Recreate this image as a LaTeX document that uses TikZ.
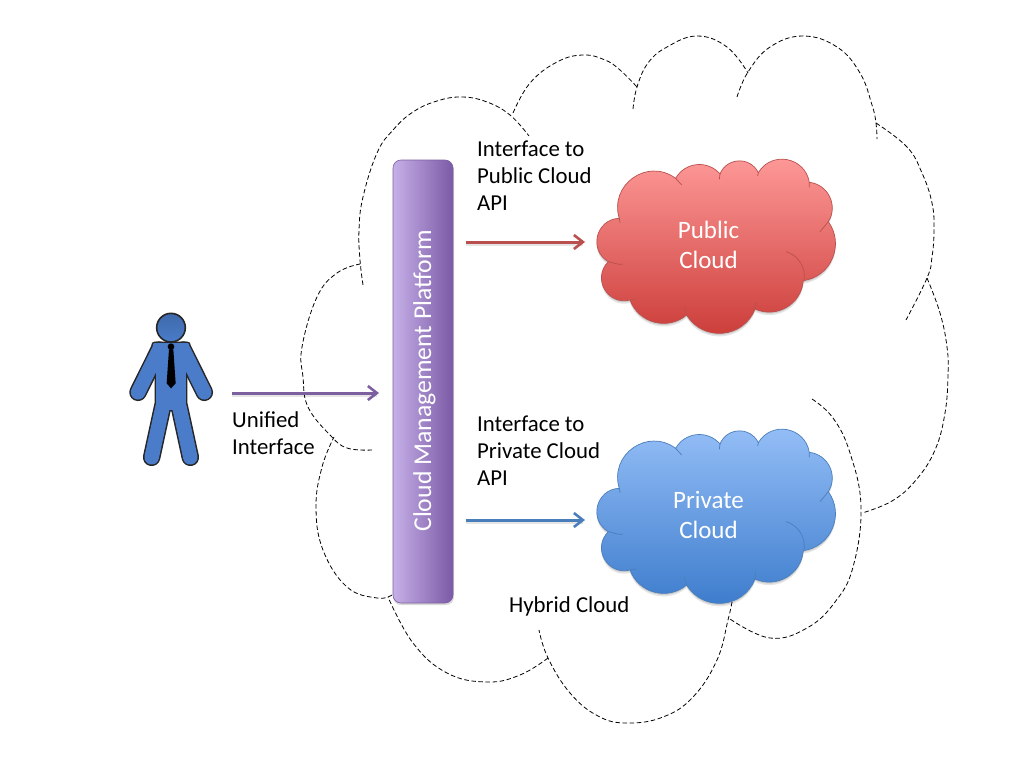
\documentclass[tikz,border=0pt]{standalone}
\usepackage{fontspec}
\setmainfont{Carlito}
\usetikzlibrary{arrows.meta}
\definecolor{redtop}{HTML}{FF9C9B}
\definecolor{redbot}{HTML}{CA3A36}
\definecolor{redline}{HTML}{B9504D}
\definecolor{bluetop}{HTML}{97C0F8}
\definecolor{bluebot}{HTML}{3A7ACB}
\definecolor{blueline}{HTML}{4A7EBB}
\definecolor{barleft}{HTML}{C6B0E8}
\definecolor{barright}{HTML}{7B5AA6}
\definecolor{purpleline}{HTML}{7D60A0}
\definecolor{manblue}{HTML}{4A7CC9}
\tikzset{
  x=1pt,y=-1pt,
  % circular arc bulging to the left of its direction, #1 = angle to the chord
  lobe/.code={\pgfmathsetmacro\lobeloose{(2/3)*tan(#1/2)/sin(#1)/0.3915}%
    \tikzset{bend left=#1,looseness=\lobeloose}},
  hybrid/.style={draw=black,line width=.8pt,dash pattern=on 4.5pt off 2.6pt},
  label/.style={font=\fontsize{22.8}{27}\selectfont,align=left,anchor=west,text=black,inner sep=0pt},
  cloudtext/.style={font=\fontsize{25}{30}\selectfont,align=center,text=white,inner sep=0pt},
  flow/.style={line width=3pt,-{Straight Barb[length=9pt,width=14pt,line width=2.6pt]}},
}
% Outline of the many-lobed cloud, traced lobe by lobe
\newcommand{\lobeoutline}{
  (118,205) to[lobe=72] (287,85) to[lobe=55] (420,72) to[lobe=66] (535,68)
  to[lobe=70] (688,97) to[lobe=58] (745,215) to[lobe=59] (670,392)
  to[lobe=55] (525,477) to[lobe=64] (320,495) to[lobe=55] (150,450)
  to[lobe=75] (85,335) to[lobe=74] (118,205) -- cycle}
% #1 vertical offset, #2 top colour, #3 bottom colour, #4 line colour
\newcommand{\lobecloud}[4]{
  \begin{scope}[shift={(580,#1)},x=.3333pt,y=-.3333pt]
    \fill[black,opacity=.10,yshift=-3pt] \lobeoutline;
    \fill[black,opacity=.10,yshift=-1.5pt] \lobeoutline;
    \path[draw=#4,line width=.7pt,top color=#2,bottom color=#3] \lobeoutline;
    \draw[#4,line width=.7pt]
      (287,85) -- (305,105)
      (420,72) -- (418,88)
      (535,68) -- (533,78)
      (688,97) -- (688,112)
      (745,215) -- (720,245)
      (525,477) -- (527,455)
      (320,495) -- (313,472)
      (150,450) -- (168,447)
      (85,335) to[out=-10,in=185] (128,343)
      (118,205) -- (120,218)
      (618,305) to[lobe=42] (672,392);
  \end{scope}
}
% The figure's limbs and trunk, laid down once for the outline and once for the fill
\newcommand{\manlayer}[2]{
  \path[draw=#1,fill=#1,line width=#2+3pt,line join=round]
    (133,134) -- (233,134) -- (223,220) -- (223,325) -- (143,325) -- (143,220) -- cycle;
  \draw[#1,line width=#2+14.5pt,line cap=round]
    (84,277) -- (147,150)  (283,277) -- (220,150);
  \draw[#1,line width=#2+14.5pt,line cap=round]
    (125,472) -- (158,320)  (241,472) -- (208,320);
}
\begin{document}
\begin{tikzpicture}
\useasboundingbox (0,0) rectangle (1024,768);
\fill[white] (0,0) rectangle (1024,768);

% Hybrid cloud: separate dashed arcs
\draw[hybrid] plot[smooth,tension=.7] coordinates {(363,285)(360,260)(359,230)(363,197)(377,153)(393,130)(413,112)(437,101)(462,97)(487,102)(510,115)(529,136)};
\draw[hybrid] plot[smooth,tension=.7] coordinates {(513,113)(530,83)(557,62)(583,55)(605,60)(620,70)(637,87)};
\draw[hybrid] plot[smooth,tension=.7] coordinates {(633,109)(637,87)(648,63)(667,47)(697,36)(727,47)(748,73)};
\draw[hybrid] plot[smooth,tension=.7] coordinates {(737,97)(748,72)(770,47)(803,36)(837,47)(860,73)(872,105)(876,123)(877,139)};
\draw[hybrid] plot[smooth,tension=.7] coordinates {(876,123)(907,147)(922,173)(932,203)(934,230)(932,257)(927,278)(906,320)};
\draw[hybrid] plot[smooth,tension=.7] coordinates {(927,278)(940,313)(947,347)(948,375)(945,413)(935,450)(916,480)(892,501)(862,513)};
\draw[hybrid] plot[smooth,tension=.7] coordinates {(812,399)(833,418)(850,453)(861,507)(853,567)(835,602)(807,628)(770,638)(730,619)};
\draw[hybrid] plot[smooth,tension=.7] coordinates {(732,602)(728,620)(717,660)(693,697)(663,717)(627,723)(598,716)(570,693)(548,658)(539,630)};
\draw[hybrid] plot[smooth,tension=.7] coordinates {(548,658)(520,675)(487,682)(447,673)(413,643)(388,597)};
\draw[hybrid] plot[smooth,tension=.7] coordinates {(392,595)(377,598)(347,587)(323,550)(316,507)(322,467)(334,437)};
\draw[hybrid] plot[smooth,tension=.7] coordinates {(372,450)(347,448)(330,435)(308,407)(303,377)(302,347)(317,297)(337,273)(360,264)};

% Management platform bar
\fill[black,opacity=.15,rounded corners=8pt] (393,162) rectangle (454,605);
\path[rounded corners=8pt,left color=barleft,right color=barright,draw=purpleline,line width=.6pt] (393,160) rectangle (453,603);
\node[font=\fontsize{25.7}{30}\selectfont,text=white,rotate=90,inner sep=0pt] (platform) at (424.5,381) {Cloud Management Platform};

% Target clouds
\lobecloud{150}{redtop}{redbot}{redline}
\lobecloud{420}{bluetop}{bluebot}{blueline}
\node[cloudtext] (public) at (708.5,245) {Public\\Cloud};
\node[cloudtext] (private) at (708.5,515) {Private\\Cloud};

% Person figure
\begin{scope}[shift={(110,300)},x=.3333pt,y=-.3333pt]
  \manlayer{black!85}{3pt}
  \manlayer{manblue}{0pt}
  \path[draw=black!85,line width=1.6pt,top color=manblue!85!black,bottom color=manblue] (183,83) circle[radius=43];
  \fill[black] (183,140) circle[radius=10];
  \fill[black] (177,148) -- (190,148) -- (197,250) -- (183,265) -- (170,250) -- cycle;
\end{scope}

% Connector end points
\coordinate (userout) at (232,393);
\coordinate (platin) at (379,393);
\coordinate (pubout) at (466,242);
\coordinate (pubin) at (585,242);
\coordinate (privout) at (466,520);
\coordinate (privin) at (585,520);

\draw[black,opacity=.10,line width=3pt] (232,395) -- (377,395) (466,244) -- (583,244) (466,522) -- (583,522);
\draw[flow,draw=purpleline] (userout) -- (platin);
\draw[flow,draw=redline] (pubout) -- (pubin);
\draw[flow,draw=blueline] (privout) -- (privin);

% Labels
\node[label] (unified) at (232,433.5) {Unified\\Interface};
\node[label] (pubapi) at (477,176) {Interface to\\Public Cloud\\API};
\node[label] (privapi) at (477,451) {Interface to\\Private Cloud\\API};
\node[label] (hybridname) at (509,606) {Hybrid Cloud};
\end{tikzpicture}
\end{document}
